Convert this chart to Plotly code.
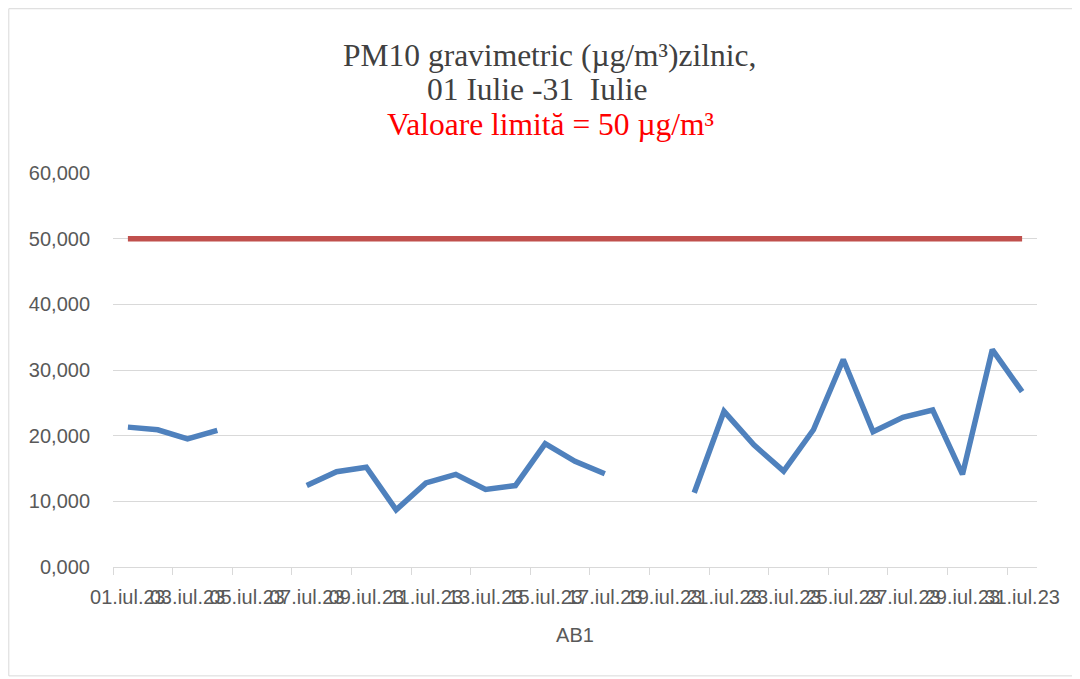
import plotly.graph_objects as go

# categorii (zile) si valori
zile = list(range(1, 32))
etichete = [f"{z:02d}.iul.23" for z in zile]

pm10 = [21.3, 20.9, 19.5, 20.8, None, None,
        12.4, 14.5, 15.2, 8.7, 12.8, 14.1, 11.8, 12.4, 18.8, 16.1, 14.2,
        None, None,
        11.3, 23.7, 18.6, 14.6, 20.9, 31.6, 20.6, 22.8, 23.9, 14.1, 33.1, 26.7]

limita = [50, 50, 50, 50, 50, 50, 50, 50, 50, 50, 50, 50, 50, 50, 50, 50,
          50, 50, 50, 50, 50, 50, 50, 50, 50, 50, 50, 50, 50, 50, 50]

y_ticks = [0, 10, 20, 30, 40, 50, 60]

titlu = ["PM10 gravimetric (\u00b5g/m\u00b3)zilnic,",
         "01 Iulie -31\u00a0 Iulie",
         "Valoare limit\u0103 = 50 \u00b5g/m\u00b3"]

# pagina html are o margine de 8px, asa ca figura e mai mica si decalata
OFF = 8
W, H = 1080 - OFF, 679 - OFF
L, R, T, B = 112.7 - OFF, 43.3, 173 - OFF, 111.5
pw, ph = W - L - R, H - T - B


def px_x(p):
    return (p - OFF - L) / pw


def px_y(p):
    return (H - B - (p - OFF)) / ph


fig = go.Figure()
fig.add_trace(go.Scatter(x=zile, y=limita, mode="lines",
                         line=dict(color="#c0504d", width=5.5),
                         showlegend=False, hoverinfo="skip"))
fig.add_trace(go.Scatter(x=zile, y=pm10, mode="lines", connectgaps=False,
                         line=dict(color="#4f81bd", width=5.5),
                         showlegend=False))

# titlul pe trei randuri
serif = "Liberation Serif, Times New Roman, serif"
for txt, cx, cy, col in [(titlu[0], 549, 55, "#404040"),
                         (titlu[1], 537, 89, "#404040"),
                         (titlu[2], 550, 124, "#ff0000")]:
    fig.add_annotation(text=txt, xref="paper", yref="paper",
                       x=px_x(cx), y=px_y(cy), xanchor="center", yanchor="middle",
                       showarrow=False, font=dict(family=serif, size=31.5, color=col))

# chenarul graficului
fig.add_shape(type="rect", xref="paper", yref="paper",
              x0=px_x(OFF + 0.5), x1=px_x(1074.5), y0=px_y(676.5), y1=px_y(OFF + 0.5),
              line=dict(color="#d9d9d9", width=1), layer="below")

fig.update_layout(
    width=W, height=H,
    margin=dict(l=L, r=R, t=T, b=B, autoexpand=False),
    paper_bgcolor="white", plot_bgcolor="white",
    separators=",.",
    font=dict(family="Liberation Sans, Arial, sans-serif", color="#595959", size=20),
    xaxis=dict(range=[0.5, 31.5], tickmode="array", automargin=False,
               tickvals=zile[::2], ticktext=etichete[::2], tickangle=0,
               ticks="outside", ticklen=12, tickcolor="rgba(0,0,0,0)",
               showgrid=False, zeroline=False,
               showline=True, linecolor="#d9d9d9", linewidth=1,
               minor=dict(tickmode="array", tickvals=[z - 0.5 for z in zile[::2]],
                          ticks="outside", ticklen=7, tickcolor="#d9d9d9", showgrid=False),
               title=dict(text="AB1", standoff=20,
                          font=dict(size=20, color="#595959"))),
    yaxis=dict(range=[0, 60], tickmode="array", tickvals=y_ticks, automargin=False,
               tickformat=".3f", ticks="outside", ticklen=18,
               tickcolor="rgba(0,0,0,0)",
               showgrid=True, gridcolor="#d9d9d9", gridwidth=1.3,
               zeroline=False, showline=False),
)

fig.write_html("out.html")
